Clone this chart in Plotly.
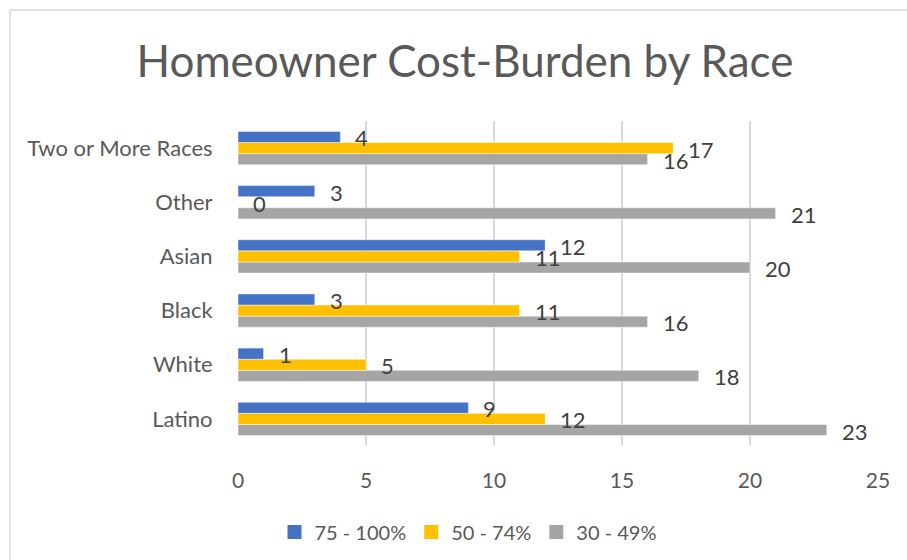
import plotly.graph_objects as go

categories = ["Latino", "White", "Black", "Asian", "Other", "Two or More Races"]
series_names = ["75 - 100%", "50 - 74%", "30 - 49%"]
s75_100 = [9, 1, 3, 12, 3, 4]
s50_74 = [12, 5, 11, 11, 0, 17]
s30_49 = [23, 18, 16, 20, 21, 16]
x_ticks = [0, 5, 10, 15, 20, 25]

colors = {"75 - 100%": "#4472C4", "50 - 74%": "#FFC000", "30 - 49%": "#A5A5A5"}
FONT = "Lato"
TXT = "#595959"

W, H = 907, 560
L, R, T, B = 238, 29, 121, 114
pw, ph = W - L - R, H - T - B

fig = go.Figure()
series = [("30 - 49%", s30_49), ("50 - 74%", s50_74), ("75 - 100%", s75_100)]
for name, vals in series:
    fig.add_trace(go.Bar(
        y=categories, x=vals, name=name, orientation="h", showlegend=False,
        marker=dict(color=colors[name], line=dict(color="rgba(255,255,255,0.6)", width=0.8)),
    ))
# legend entries (square swatches)
for name in series_names:
    fig.add_trace(go.Scatter(
        x=[None], y=[None], mode="markers", name=name,
        marker=dict(symbol="square", size=14, color=colors[name]),
    ))

bargap = 0.385
bw = (1 - bargap) / 3
offsets = {"30 - 49%": -bw, "50 - 74%": 0.0, "75 - 100%": bw}
annotations = []
for name, vals in series:
    for i, v in enumerate(vals):
        annotations.append(dict(
            x=v, y=i + offsets[name], xref="x", yref="y", text=str(v),
            showarrow=False, xanchor="left", yanchor="middle", xshift=13, yshift=-1,
            font=dict(family=FONT, size=22, color="#404040"),
        ))

fig.update_layout(
    width=W, height=H,
    margin=dict(l=L, r=R, t=T, b=B, autoexpand=False),
    paper_bgcolor="white", plot_bgcolor="white",
    barmode="group", bargap=bargap, bargroupgap=0,
    title=dict(text="Homeowner Cost-Burden by Race", x=465 / W, xanchor="center",
               y=1 - 62 / H, yanchor="middle",
               font=dict(family=FONT, size=44, color=TXT)),
    font=dict(family=FONT, color=TXT),
    legend=dict(orientation="h", xref="container", yref="container",
                x=468 / W, xanchor="center", y=1 - 532 / H, yanchor="middle",
                itemwidth=30, itemsizing="trace",
                font=dict(family=FONT, size=20, color=TXT), traceorder="normal"),
    annotations=annotations,
    shapes=[dict(type="rect", xref="paper", yref="paper",
                 x0=(10 - L) / pw, x1=(930 - L) / pw,
                 y0=(H - B - 575) / ph, y1=(H - B - 10) / ph,
                 line=dict(color="#D9D9D9", width=1.5), fillcolor="rgba(0,0,0,0)", layer="below")],
)
fig.update_xaxes(range=[0, 25], tickvals=x_ticks, showgrid=True, gridcolor="#D9D9D9", gridwidth=1.5,
                 zeroline=False, showline=False, ticks="outside", ticklen=16, tickcolor="rgba(0,0,0,0)",
                 tickfont=dict(family=FONT, size=21, color=TXT), fixedrange=True)
fig.update_yaxes(type="category", categoryorder="array", categoryarray=categories,
                 range=[-0.5, 5.5], showgrid=False, zeroline=False, showline=False,
                 ticks="outside", ticklen=20, tickcolor="rgba(0,0,0,0)",
                 tickfont=dict(family=FONT, size=22, color=TXT), fixedrange=True)

fig.write_html("out.html", config={"displayModeBar": False},
               post_script="document.body.style.margin='0px';")
